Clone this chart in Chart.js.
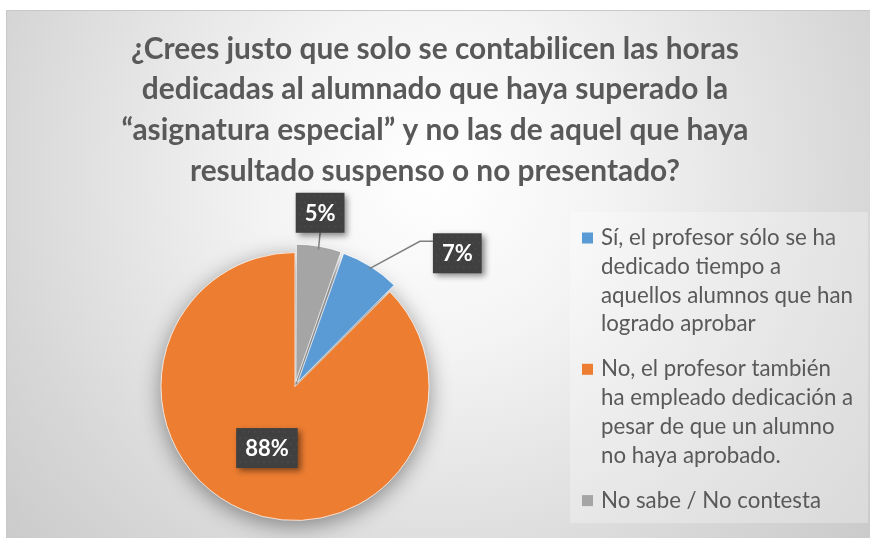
<!DOCTYPE html>
<html>
<head>
<meta charset="utf-8">
<script src="https://cdn.jsdelivr.net/npm/chart.js@4/dist/chart.umd.min.js"></script>
<style>
html,body{margin:0;padding:0;background:#fff;}
#wrap{width:870px;height:538px;position:relative;}
</style>
</head>
<body>
<div id="wrap"><canvas id="c" width="870" height="538"></canvas></div>
<script>
const titleLines = [
  "¿Crees justo que solo se contabilicen las horas",
  "dedicadas al alumnado que haya superado la",
  "“asignatura especial” y no las de aquel que haya",
  "resultado suspenso o no presentado?"
];
const categories = [
  ["Sí, el profesor sólo se ha", "dedicado tiempo a", "aquellos alumnos que han", "logrado aprobar"],
  ["No, el profesor también", "ha empleado dedicación a", "pesar de que un alumno", "no haya aprobado."],
  ["No sabe / No contesta"]
];
// shares in percent
const values = [7.1, 87.5, 5.4];
const valueLabels = ["7%", "88%", "5%"];
const sliceColors = ["#5B9BD5", "#ED7D31", "#A5A5A5"];

const W = 870, H = 538;
const FONT = "Lato, 'Open Sans', sans-serif";
const TEXT_COLOR = "#595959";

function fitSize(ctx, weight, text, target) {
  ctx.font = weight + " 100px " + FONT;
  return 100 * target / ctx.measureText(text).width;
}

const backgroundPlugin = {
  id: "bgPanel",
  beforeDraw(chart) {
    const ctx = chart.ctx;
    ctx.save();
    ctx.fillStyle = "#ffffff";
    ctx.fillRect(0, 0, W, H);
    const g = ctx.createRadialGradient(435, 175, 0, 435, 175, 560);
    g.addColorStop(0, "#ffffff");
    g.addColorStop(0.3, "#f4f4f4");
    g.addColorStop(0.78, "#d7d7d7");
    g.addColorStop(1, "#cbcbcb");
    ctx.fillStyle = g;
    ctx.fillRect(6, 10, W - 6, H - 10);
    ctx.strokeStyle = "#c8c8c8";
    ctx.lineWidth = 1;
    ctx.strokeRect(6.5, 10.5, W - 6, H - 10);
    // legend panel
    ctx.fillStyle = "rgba(255,255,255,0.28)";
    ctx.fillRect(570, 212, 298, 311);
    // title
    const ts = fitSize(ctx, "bold", titleLines[0], 608);
    ctx.font = "bold " + ts.toFixed(2) + "px " + FONT;
    ctx.fillStyle = TEXT_COLOR;
    ctx.textAlign = "center";
    ctx.textBaseline = "middle";
    titleLines.forEach((t, i) => ctx.fillText(t, 435, 49 + i * 40.8));
    ctx.restore();
  },
  afterDraw(chart) {
    const ctx = chart.ctx;
    ctx.save();
    const ls = fitSize(ctx, "normal", categories[0][0], 235);
    ctx.font = ls.toFixed(2) + "px " + FONT;
    ctx.textAlign = "left";
    ctx.textBaseline = "middle";
    const lineH = 28.7, gap = 16.5;
    let y = 238;
    categories.forEach((lines, i) => {
      ctx.fillStyle = sliceColors[i];
      ctx.fillRect(582, y - 5.5, 11, 11);
      ctx.fillStyle = TEXT_COLOR;
      lines.forEach((t, j) => ctx.fillText(t, 601, y + j * lineH));
      y += lines.length * lineH + gap;
    });
    ctx.restore();
  }
};

const pieShadowPlugin = {
  id: "pieShadow",
  beforeDatasetsDraw(chart) {
    const meta = chart.getDatasetMeta(0);
    const a = meta.data[0];
    if (!a) return;
    const ctx = chart.ctx;
    ctx.save();
    ctx.shadowColor = "rgba(0,0,0,0.42)";
    ctx.shadowBlur = 22;
    ctx.shadowOffsetX = 10000;
    ctx.shadowOffsetY = 5;
    ctx.beginPath();
    ctx.arc(a.x - 10000, a.y, a.outerRadius, 0, Math.PI * 2);
    ctx.fillStyle = "#000";
    ctx.fill();
    ctx.restore();
  }
};

const sliceLabelPlugin = {
  id: "sliceLabels",
  afterDatasetsDraw(chart, args, opts) {
    const meta = chart.getDatasetMeta(0);
    const ctx = chart.ctx;
    ctx.save();
    const fs = 22;
    meta.data.forEach((arc, i) => {
      const p = opts.place[i];
      const mid = (arc.startAngle + arc.endAngle) / 2;
      const off = (arc.options.offset || 0) / 4; // Chart.js translates arcs by offset/4
      const R = arc.outerRadius;
      const ang = mid + p.dAngle * Math.PI / 180;
      const bx = arc.x + Math.cos(ang) * R * p.rf;
      const by = arc.y + Math.sin(ang) * R * p.rf;
      ctx.font = "bold " + fs + "px " + FONT;
      const tw = ctx.measureText(valueLabels[i]).width;
      const bw = tw + 18, bh = 40;
      const left = bx - bw / 2, top = by - bh / 2;
      const ex = arc.x + Math.cos(mid) * (R + off);
      const ey = arc.y + Math.sin(mid) * (R + off);
      ctx.strokeStyle = "#7f7f7f";
      ctx.lineWidth = 1.5;
      if (p.leader === "down") {
        ctx.beginPath();
        ctx.moveTo(bx, top + bh);
        ctx.lineTo(ex, ey);
        ctx.stroke();
      } else if (p.leader === "elbow") {
        const ay = top + 8;
        ctx.beginPath();
        ctx.moveTo(left, ay);
        ctx.lineTo(left - 13, ay);
        ctx.lineTo(ex, ey);
        ctx.stroke();
      }
      ctx.save();
      ctx.shadowColor = "rgba(0,0,0,0.45)";
      ctx.shadowBlur = 6;
      ctx.shadowOffsetX = 3;
      ctx.shadowOffsetY = 3;
      ctx.fillStyle = "#404040";
      ctx.fillRect(left, top, bw, bh);
      ctx.restore();
      ctx.fillStyle = "#4d4d4d";
      for (let yy = top + 3; yy < top + bh - 1; yy += 6) {
        for (let xx = left + 3 + ((Math.round((yy - top) / 6) % 2) ? 3 : 0); xx < left + bw - 1; xx += 6) {
          ctx.fillRect(xx, yy, 1.5, 1.5);
        }
      }
      ctx.fillStyle = "#ffffff";
      ctx.textAlign = "center";
      ctx.textBaseline = "middle";
      ctx.fillText(valueLabels[i], bx, by + 1);
    });
    ctx.restore();
  }
};

new Chart(document.getElementById("c"), {
  type: "pie",
  data: {
    labels: categories.map(l => l.join(" ")),
    datasets: [{
      data: values,
      backgroundColor: sliceColors,
      borderColor: "rgba(255,255,255,0.75)",
      borderWidth: 1,
      offset: [20, 0, 20]
    }]
  },
  options: {
    responsive: false,
    animation: false,
    radius: 134,
    rotation: 19.44,
    layout: { padding: { left: 0, right: 280, top: 235, bottom: 0 } },
    plugins: {
      legend: { display: false },
      title: { display: false },
      tooltip: { enabled: false },
      sliceLabels: {
        place: [
          { dAngle: 18.4, rf: 1.567, leader: "elbow" },
          { dAngle: 2.0, rf: 0.505, leader: "none" },
          { dAngle: -1.5, rf: 1.31, leader: "down" }
        ]
      }
    }
  },
  plugins: [backgroundPlugin, pieShadowPlugin, sliceLabelPlugin]
});
</script>
</body>
</html>
